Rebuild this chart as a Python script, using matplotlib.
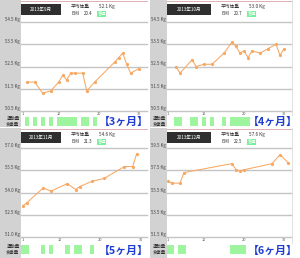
import matplotlib
matplotlib.use('Agg')
import matplotlib.pyplot as plt
from matplotlib.patches import Rectangle
from matplotlib import transforms

plt.rcParams['font.family'] = ['Noto Sans CJK JP', 'DejaVu Sans']

# ---------------- data ----------------
months = ['2013年9月', '2013年10月', '2013年11月', '2013年12月']
avg_weight = ['52.1', '53.0', '54.6', '57.6']
bmi = ['20.4', '20.7', '21.3', '22.5']
bmi_class = ['普通', '普通', '普通', '普通']
period_labels = ['【3ヶ月】', '【4ヶ月】', '【5ヶ月】', '【6ヶ月】']

sep_days = [2, 4, 6, 8, 10, 11, 12, 13, 14, 16, 17, 19, 24, 25, 26, 27, 28, 30]
sep_kg = [51.8, 51.8, 51.3, 51.4, 51.8, 52.1, 51.9, 52.2, 52.2, 52.2, 51.4, 51.8,
          52.7, 52.9, 53.1, 52.6, 52.2, 52.4]
oct_days = [3, 4, 7, 8, 10, 12, 15, 17, 18, 19, 20, 21, 22, 24, 26, 28, 29, 30]
oct_kg = [52.5, 52.2, 52.8, 52.5, 52.6, 52.6, 53.1, 53.6, 53.4, 53.1, 53.2, 52.9,
          53.2, 53.1, 53.3, 53.5, 53.0, 53.3]
nov_days = [1, 2, 6, 8, 12, 14, 15, 18, 21, 26, 28, 29]
nov_kg = [53.1, 53.3, 54.3, 54.1, 54.6, 54.2, 54.4, 54.75, 54.95, 55.75, 55.75, 56.6]
dec_days = [1, 2, 4, 5, 17, 18, 19, 20, 27, 29, 31]
dec_kg = [56.5, 56.35, 56.35, 57.3, 58.1, 57.55, 57.45, 57.55, 58.1, 58.9, 58.2]

sep_yticks = [54.5, 53.5, 52.5, 51.5, 50.5]
oct_yticks = [54.5, 53.5, 52.5, 51.5, 50.5]
nov_yticks = [57.0, 55.5, 54.0, 52.5, 51.0]
dec_yticks = [59.5, 57.5, 55.5, 53.5, 51.5]

xticks = [1, 10, 20, 30]

# exercise / meal record days (green bars)
sep_ex = sep_days
oct_ex = oct_days
nov_ex = nov_days
dec_ex = dec_days

series = [(sep_days, sep_kg, sep_yticks, sep_ex),
          (oct_days, oct_kg, oct_yticks, oct_ex),
          (nov_days, nov_kg, nov_yticks, nov_ex),
          (dec_days, dec_kg, dec_yticks, dec_ex)]

# ---------------- layout (pixels) ----------------
W, H = 300, 258
fig = plt.figure(figsize=(W / 100, H / 100), dpi=100)
fig.patch.set_facecolor('white')

layouts = [
    dict(ox=0, oy=0, w=148, h=127, strip=21, right=147, p1=22.7, slope=4.0, gtop=22, gbot=111),
    dict(ox=150, oy=0, w=146, h=127, strip=167, right=291, p1=168, slope=4.0, gtop=22, gbot=111),
    dict(ox=0, oy=128, w=148, h=130, strip=21, right=147, p1=22.7, slope=4.07, gtop=148, gbot=237),
    dict(ox=150, oy=128, w=146, h=130, strip=167, right=291, p1=168, slope=4.0, gtop=148, gbot=237.3),
]


def px_axes(x0, y0, x1, y1, zorder=0):
    return fig.add_axes([x0 / W, 1 - y1 / H, (x1 - x0) / W, (y1 - y0) / H], zorder=zorder)


def blank(ax, fc='white'):
    ax.set_xticks([])
    ax.set_yticks([])
    for s in ax.spines.values():
        s.set_visible(False)
    ax.set_facecolor(fc)


GRAY = '#d2d2d2'
GRID = '#c4c4c4'
ORANGE = '#f7a862'
GREEN = '#9ff59f'
BLUE = '#1f3dd2'
TXT = '#333333'

for i, L in enumerate(layouts):
    days, kg, yt, ex = series[i]
    ox, oy, w, h = L['ox'], L['oy'], L['w'], L['h']
    # frame axes in absolute pixel coordinates
    fr = px_axes(ox, oy, ox + w, oy + h, zorder=0)
    blank(fr)
    fr.set_xlim(ox, ox + w)
    fr.set_ylim(oy + h, oy)
    fr.add_patch(Rectangle((ox, oy), L['strip'] - ox, h, color=GRAY, lw=0))
    # top border line
    fr.plot([L['strip'], L['right']], [oy + 1.2, oy + 1.2], color='#d9a3a3', lw=0.6)
    # right border
    fr.plot([L['right'] + 1, L['right'] + 1], [oy, oy + h], color='#dddddd', lw=0.6)

    # header
    fr.add_patch(Rectangle((L['strip'], oy + 4), ox + 61 - L['strip'], 11, color='#2f2f2f', lw=0))
    fr.text((L['strip'] + ox + 61) / 2, oy + 9.6, months[i], color='white', fontsize=3.3,
            ha='center', va='center')
    fr.text(ox + 71, oy + 6.5, '平均体重', fontsize=3.4, color=TXT, ha='left', va='center')
    fr.text(ox + 99, oy + 6.5, avg_weight[i] + ' Kg', fontsize=3.4, color=TXT, ha='left', va='center')
    fr.text(ox + 71, oy + 13.7, 'BMI', fontsize=3.2, color=TXT, ha='left', va='center')
    fr.text(ox + 84, oy + 13.7, bmi[i], fontsize=3.2, color=TXT, ha='left', va='center')
    fr.add_patch(Rectangle((ox + 97, oy + 10.8), 9, 6, color='#77f09a', lw=0))
    fr.text(ox + 101.5, oy + 13.7, bmi_class[i], fontsize=3.0, color='white',
            ha='center', va='center')

    # row labels
    fr.text(L['strip'] - 1.5, oy + 118, '運動量', fontsize=3.2, color=TXT, ha='right',
            va='center', clip_on=True)
    fr.text(L['strip'] - 1.5, oy + 124.5, '食事量', fontsize=3.2, color=TXT, ha='right',
            va='center', clip_on=True)

    # plot axes
    ax = px_axes(L['strip'], L['gtop'], L['right'], L['gbot'], zorder=1)
    ax.set_facecolor('none')
    for s in ax.spines.values():
        s.set_visible(False)
    xlo = 1 + (L['strip'] - L['p1']) / L['slope']
    xhi = 1 + (L['right'] - L['p1']) / L['slope']
    ax.set_xlim(xlo, xhi)
    ax.set_ylim(yt[-1], yt[0])
    for v in yt:
        ax.axhline(v, color=GRID, lw=1.0, clip_on=False, zorder=1)
    ax.plot(days, kg, color=ORANGE, lw=0.75, marker='o', ms=1.3, mec=ORANGE, mfc=ORANGE,
            clip_on=False, zorder=3)
    ax.set_yticks([])
    ax.set_xticks(xticks)
    ax.set_xticklabels([str(t) for t in xticks])
    ax.tick_params(axis='x', length=0, pad=0.6, labelsize=2.8, labelcolor='#555555')

    # y labels inside the gray strip (clipped at panel edge)
    tr = transforms.blended_transform_factory(fr.transData, ax.transData)
    for v in yt:
        fr.text(L['strip'] - 0.8, v, f'{v:.1f} Kg', transform=tr, fontsize=3.2, color='#444444',
                ha='right', va='bottom', clip_on=True)

    # green bars (exercise / meal)
    bx = px_axes(L['strip'], oy + 116.5, L['right'], oy + 126, zorder=1)
    bx.set_facecolor('none')
    for s in bx.spines.values():
        s.set_visible(False)
    bx.set_xticks([])
    bx.set_yticks([])
    bx.set_xlim(xlo, xhi)
    bx.set_ylim(0, 2)
    bx.bar(ex, 1, width=1.0, bottom=1, color=GREEN, lw=0)
    bx.bar(ex, 1, width=1.0, bottom=0, color=GREEN, lw=0)

    # period label
    x_end = ox + 147 if ox == 0 else ox + 145
    y_end = oy + 127 if oy == 0 else oy + 129
    lx = px_axes(ox + 100, oy + 115.5, x_end, y_end, zorder=2)
    blank(lx, 'white')
    lx.text(0.5, 0.45, period_labels[i], color=BLUE, fontsize=7.8, fontweight='bold',
            ha='center', va='center', transform=lx.transAxes)

fig.savefig('out.png', dpi=100, facecolor='white')
